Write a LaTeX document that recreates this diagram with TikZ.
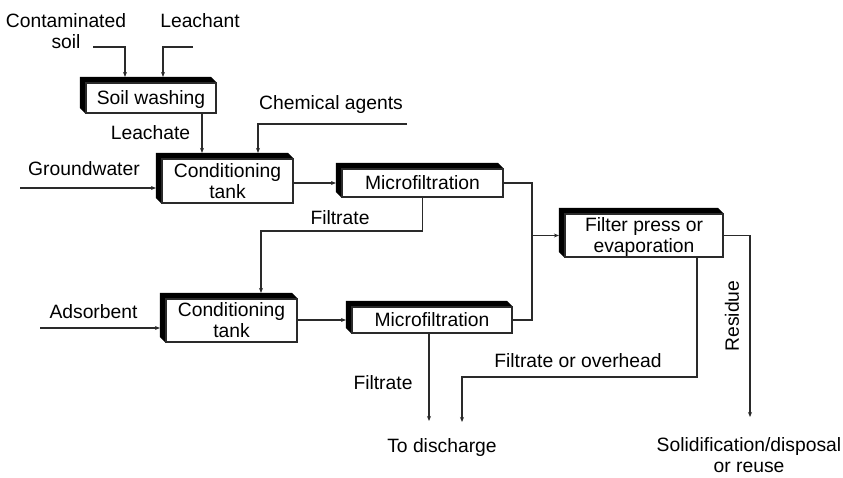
\documentclass[tikz,border=0pt]{standalone}
\usepackage{fontspec}
\setmainfont{Liberation Sans}
\usetikzlibrary{arrows.meta,calc}

\definecolor{ink}{HTML}{2A2A2A}

\tikzset{
  % process box: white body with a black bevelled band on top and left
  procbox/.style={
    draw=ink, fill=white, line width=1.2pt, inner sep=0pt, align=center,
    minimum width=#1, text depth=0pt,
    append after command={
      \pgfextra{\fill[black]
        ($(\tikzlastnode.north west)+(-5.5pt,5.5pt)$) --
        ($(\tikzlastnode.north east)+(-5.5pt,5.5pt)$) --
        (\tikzlastnode.north east) -- (\tikzlastnode.north west) --
        (\tikzlastnode.south west) --
        ($(\tikzlastnode.south west)+(-5.5pt,5.5pt)$) -- cycle;}
    }
  },
  line/.style={draw=ink, line width=1.3pt},
  flow/.style={line, -{Stealth[length=5pt,width=4pt]}},
  lbl/.style={inner sep=0pt, align=center}
}

\begin{document}
\fontsize{19.3}{21}\selectfont
\begin{tikzpicture}[x=1pt, y=-1pt]
\useasboundingbox (0,0) rectangle (843,477);

% process units
\node[procbox=130pt, minimum height=30pt] (wash) at (151,98) {Soil washing};
\node[procbox=131pt, minimum height=44pt] (cond1) at (227.5,181) {Conditioning\\tank};
\node[procbox=161pt, minimum height=28pt] (mf1) at (422.5,183) {Microfiltration};
\node[procbox=158pt, minimum height=43pt] (press) at (644,235.5) {Filter press or\\evaporation};
\node[procbox=131pt, minimum height=43pt] (cond2) at (231.5,320.5) {Conditioning\\tank};
\node[procbox=160pt, minimum height=26pt] (mf2) at (432,320) {Microfiltration};

% labels
\node[lbl] (tcs) at (66,31) {Contaminated\\soil};
\node[lbl] (tlc) at (200,21) {Leachant};
\node[lbl] (tle) at (150.5,133) {Leachate};
\node[lbl] (tca) at (331,105) {Chemical agents};
\node[lbl] (tgw) at (84,169) {Groundwater};
\node[lbl] (tf1) at (340,218) {Filtrate};
\node[lbl] (tad) at (93.5,312) {Adsorbent};
\node[lbl] (tf2) at (383,383) {Filtrate};
\node[lbl] (tfo) at (578,361) {Filtrate or overhead};
\node[lbl, rotate=90] (tre) at (732,316) {Residue};
\node[lbl] (tdi) at (442,448) {To discharge};
\node[lbl] (tso) at (749,455.5) {Solidification/disposal\\or reuse};

% free ends of the stream lines
\coordinate (cs) at (93,47);
\coordinate (lc) at (193,47);
\coordinate (ca) at (407,124);
\coordinate (gw) at (20,188);
\coordinate (ad) at (40,328);
\coordinate (fbend) at (261,231);
\coordinate (jn) at (532,235.5);
\coordinate (resend) at (750,417);
\coordinate (ovbend) at (462,377);
\coordinate (ovend) at (462,422);
\coordinate (disend) at (429,421);
\path ([xshift=-5.5pt]cond1.west) coordinate (c1w);
\path ([xshift=-5.5pt]cond2.west) coordinate (c2w);

% feeds into soil washing
\draw[flow] (cs) -| ([xshift=-26pt,yshift=5.5pt]wash.north);
\draw[flow] (lc) -| ([xshift=12pt,yshift=5.5pt]wash.north);

% first conditioning train
\draw[flow] ([xshift=51pt]wash.south) -- ([xshift=-25.5pt,yshift=5.5pt]cond1.north);
\draw[flow] (ca) -| ([xshift=30.5pt,yshift=5.5pt]cond1.north);
\draw[flow] (gw) -- (gw -| c1w);
\draw[flow] (cond1.east |- mf1.west) -- ([xshift=-5.5pt]mf1.west);

% filtrate to second conditioning train
\draw[flow] (mf1.south) |- (fbend) -- ([xshift=29.5pt,yshift=5.5pt]cond2.north);
\draw[flow] (ad) -- (ad -| c2w);
\draw[flow] (cond2.east |- mf2.west) -- ([xshift=-5.5pt]mf2.west);

% solids to filter press
\draw[line] (mf1.east) -| (jn);
\draw[line] (mf2.east) -| (jn);
\draw[flow] (jn) -- ([xshift=-5.5pt]press.west);

% outlets
\draw[flow] (press.east) -| (resend);
\draw[flow] ([xshift=53pt]press.south) |- (ovbend) -- (ovend);
\draw[flow] ([xshift=-3pt]mf2.south) -- (disend);
\end{tikzpicture}
\end{document}
